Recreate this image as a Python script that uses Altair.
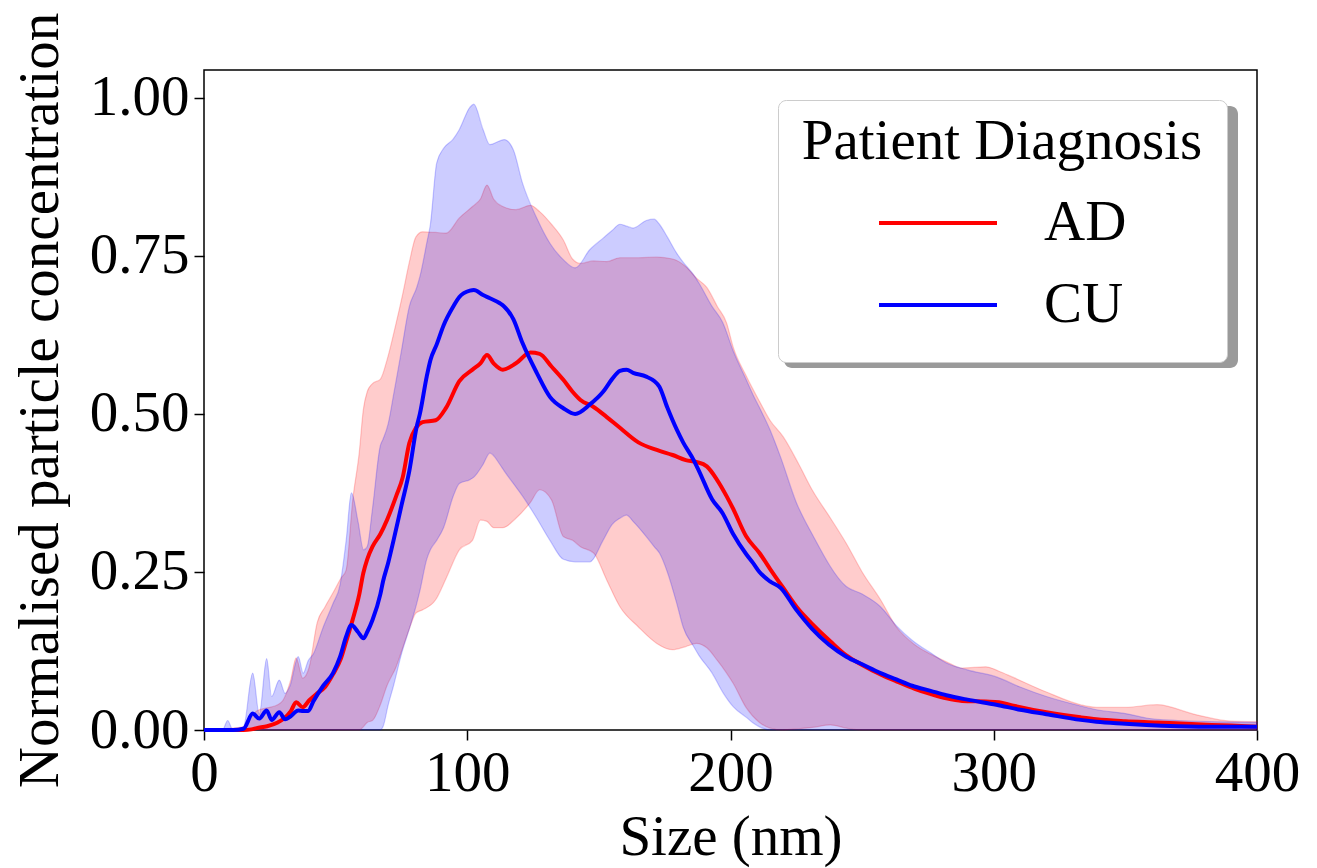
import altair as alt
import pandas as pd

# ---------------- data ----------------
groups = ["AD", "CU"]
colors = ["#ff0000", "#0000ff"]

ad_x = [0, 15, 18, 20, 24, 28, 30, 33, 35, 37.5, 40, 43, 46, 49, 52, 54, 56.5, 59, 60.5, 62, 64, 67,
        69.5, 73, 75.5, 78, 80.5, 83, 88, 92, 97, 102, 105, 107.5, 110, 113.5, 118.5, 124, 127.5, 132,
        136.5, 140, 143, 148, 153, 158, 165, 172, 178, 183, 187, 191, 195, 198.5, 201, 206, 211, 215,
        220, 226, 231, 238, 244, 250, 257, 263, 270, 276, 282, 288, 297, 302, 307, 320, 333, 339, 350,
        362, 377, 390, 400]
ad_mean = [0, 0, 0.001, 0.003, 0.006, 0.012, 0.017, 0.03, 0.044, 0.036, 0.047, 0.058, 0.068, 0.088,
           0.113, 0.14, 0.175, 0.215, 0.248, 0.27, 0.29, 0.31, 0.332, 0.37, 0.40, 0.454, 0.478, 0.487,
           0.49, 0.51, 0.552, 0.57, 0.58, 0.593, 0.58, 0.57, 0.58, 0.597, 0.595, 0.575, 0.554, 0.535,
           0.522, 0.511, 0.495, 0.478, 0.455, 0.443, 0.435, 0.427, 0.424, 0.417, 0.395, 0.37, 0.35,
           0.306, 0.28, 0.255, 0.225, 0.19, 0.168, 0.14, 0.118, 0.103, 0.088, 0.077, 0.065, 0.057, 0.05,
           0.046, 0.045, 0.044, 0.039, 0.028, 0.02, 0.017, 0.014, 0.012, 0.009, 0.007, 0.005]
ad_lower = [0, 0, 0, 0, 0, 0, 0, 0, 0, 0, 0, 0, 0, 0, 0, 0, 0, 0, 0.005, 0.012, 0.015, 0.04, 0.07, 0.10,
            0.13, 0.16, 0.185, 0.19, 0.206, 0.24, 0.285, 0.30, 0.332, 0.33, 0.32, 0.32, 0.335, 0.36,
            0.38, 0.364, 0.306, 0.30, 0.29, 0.28, 0.237, 0.195, 0.163, 0.137, 0.127, 0.132, 0.137, 0.13,
            0.11, 0.09, 0.074, 0.035, 0.012, 0.003, 0, 0.002, 0.004, 0.008, 0.003, 0, 0, 0, 0, 0, 0, 0,
            0, 0, 0, 0, 0, 0, 0, 0, 0, 0, 0]
ad_upper = [0, 0.005, 0.02, 0.03, 0.035, 0.04, 0.047, 0.08, 0.114, 0.082, 0.10, 0.17, 0.195, 0.217,
            0.24, 0.253, 0.364, 0.44, 0.506, 0.535, 0.548, 0.555, 0.585, 0.644, 0.69, 0.74, 0.78, 0.788,
            0.787, 0.786, 0.81, 0.828, 0.84, 0.862, 0.84, 0.828, 0.823, 0.83, 0.82, 0.80, 0.775, 0.745,
            0.738, 0.742, 0.741, 0.747, 0.747, 0.748, 0.745, 0.733, 0.715, 0.70, 0.67, 0.644, 0.606,
            0.56, 0.52, 0.49, 0.464, 0.42, 0.38, 0.335, 0.295, 0.25, 0.206, 0.163, 0.135, 0.12, 0.108,
            0.098, 0.10, 0.093, 0.084, 0.06, 0.04, 0.036, 0.036, 0.04, 0.024, 0.014, 0.013]

cu_x = [0, 7, 9, 11, 15, 18.5, 21, 23.8, 25.7, 28.6, 30.8, 32.7, 35.8, 37.7, 39.6, 41.5, 45.3, 49,
        51.7, 54, 56, 58.5, 60.6, 62, 64, 67, 68, 70, 72, 75, 78, 80.8, 82, 84.6, 86, 88.4, 91, 94.7,
        97, 101, 102.5, 106, 108.6, 112.4, 114, 117.5, 121, 126.4, 131.4, 136.5, 141, 146.6, 151.6,
        155, 158, 160.5, 163, 168, 171, 173, 176, 179.6, 182, 186, 188, 193, 197, 201, 206, 208.6,
        211, 215, 219, 225, 231, 244, 250, 257, 263, 269, 276, 282, 290, 301, 310, 320, 333, 339, 350,
        358, 370, 385, 400]
cu_mean = [0, 0, 0, 0, 0.002, 0.026, 0.018, 0.031, 0.016, 0.028, 0.017, 0.021, 0.031, 0.03, 0.03,
           0.045, 0.07, 0.09, 0.116, 0.148, 0.166, 0.155, 0.145, 0.155, 0.174, 0.215, 0.235, 0.265,
           0.30, 0.355, 0.41, 0.48, 0.50, 0.559, 0.585, 0.61, 0.64, 0.67, 0.685, 0.695, 0.696, 0.688,
           0.683, 0.675, 0.67, 0.65, 0.612, 0.565, 0.527, 0.509, 0.50, 0.515, 0.535, 0.555, 0.568,
           0.57, 0.565, 0.559, 0.552, 0.543, 0.51, 0.475, 0.455, 0.427, 0.41, 0.365, 0.343, 0.31,
           0.278, 0.264, 0.25, 0.235, 0.225, 0.19, 0.16, 0.116, 0.104, 0.09, 0.08, 0.07, 0.062, 0.055,
           0.048, 0.04, 0.032, 0.025, 0.016, 0.013, 0.01, 0.008, 0.006, 0.005, 0.005]
cu_lower = [0, 0, 0, 0, 0, 0, 0, 0, 0, 0, 0, 0, 0, 0, 0, 0, 0, 0, 0, 0, 0, 0, 0, 0, 0, 0, 0.005, 0.04,
            0.07, 0.12, 0.16, 0.20, 0.22, 0.27, 0.285, 0.30, 0.32, 0.37, 0.39, 0.396, 0.40, 0.42, 0.438,
            0.42, 0.41, 0.39, 0.37, 0.335, 0.30, 0.27, 0.266, 0.266, 0.30, 0.325, 0.335, 0.34, 0.33,
            0.306, 0.29, 0.28, 0.25, 0.20, 0.163, 0.132, 0.118, 0.09, 0.06, 0.037, 0.02, 0.011, 0.005,
            0, 0, 0, 0, 0, 0, 0, 0, 0, 0, 0, 0, 0, 0, 0, 0, 0, 0, 0, 0, 0, 0]
cu_upper = [0, 0, 0.015, 0, 0.005, 0.09, 0.025, 0.113, 0.053, 0.079, 0.058, 0.07, 0.116, 0.09, 0.11,
            0.12, 0.163, 0.20, 0.23, 0.30, 0.375, 0.33, 0.285, 0.29, 0.35, 0.45, 0.46, 0.485, 0.53,
            0.60, 0.67, 0.70, 0.717, 0.77, 0.80, 0.897, 0.92, 0.935, 0.95, 0.985, 0.99, 0.95, 0.926,
            0.932, 0.934, 0.918, 0.865, 0.81, 0.77, 0.744, 0.731, 0.76, 0.778, 0.79, 0.80, 0.797, 0.794,
            0.806, 0.808, 0.80, 0.78, 0.754, 0.74, 0.72, 0.707, 0.67, 0.645, 0.60, 0.554, 0.53, 0.51,
            0.475, 0.432, 0.36, 0.31, 0.227, 0.215, 0.195, 0.165, 0.142, 0.122, 0.106, 0.095, 0.084,
            0.068, 0.053, 0.038, 0.032, 0.026, 0.019, 0.015, 0.013, 0.012]

x_ticks = [0, 100, 200, 300, 400]
y_ticks = [0, 0.25, 0.5, 0.75, 1.0]

# ---------------- build table ----------------
frames = []
for g, xs, lo, me, up in [("AD", ad_x, ad_lower, ad_mean, ad_upper),
                          ("CU", cu_x, cu_lower, cu_mean, cu_upper)]:
    frames.append(pd.DataFrame({"size": xs, "lower": lo, "mean": me, "upper": up, "group": g}))
df = pd.concat(frames, ignore_index=True)

FONT = "Liberation Serif"
FS = 57

xscale = alt.Scale(domain=[0, 400], nice=False, zero=False)
yscale = alt.Scale(domain=[0, 1.044], nice=False)
cscale = alt.Scale(domain=groups, range=colors)

legend_spec = alt.Legend(title="Patient Diagnosis", orient="none",
                         legendX=574, legendY=30,
                         symbolType="stroke", symbolSize=13924,
                         symbolStrokeWidth=4, symbolOpacity=1,
                         labelOffset=45, symbolOffset=0,
                         clipHeight=66, rowPadding=16, padding=24,
                         titleAnchor="middle", titlePadding=9, titleLimit=800,
                         titleBaseline="line-top", titleLineHeight=37,
                         labelLimit=400,
                         fillColor="white", strokeColor="#cccccc",
                         cornerRadius=8)

base = alt.Chart(df)

# band: fill + translucent edge, line: mean
bands = base.mark_area(fillOpacity=0.2, strokeOpacity=0.2, strokeWidth=1.2,
                       interpolate="monotone").encode(
    x=alt.X("size:Q", scale=xscale,
            axis=alt.Axis(title="Size (nm)", values=x_ticks, format="d", labelFlush=False)),
    y=alt.Y("lower:Q", scale=yscale,
            axis=alt.Axis(title="Normalised particle concentration", values=y_ticks, format=".2f")),
    y2="upper:Q",
    color=alt.Color("group:N", scale=cscale, legend=legend_spec),
    stroke=alt.Stroke("group:N", scale=cscale, legend=legend_spec),
)

lines = base.mark_line(strokeWidth=4, interpolate="monotone").encode(
    x="size:Q",
    y="mean:Q",
    color=alt.Color("group:N", scale=cscale, legend=legend_spec),
)

shadow = alt.Chart(pd.DataFrame({"k": [0]})).mark_rect(color="#9a9a9a", cornerRadius=8).encode(
    x=alt.value(580), x2=alt.value(1034), y=alt.value(36), y2=alt.value(298)
)

chart = alt.layer(shadow, bands, lines).properties(
    width=1053, height=660,
    padding={"left": 196, "top": 62, "right": 52, "bottom": 138},
    autosize=alt.AutoSizeParams(type="none"),
).configure(
    font=FONT,
).configure_view(
    stroke="black", strokeWidth=1.5
).configure_axis(
    grid=False, domain=False,
    labelFont=FONT, labelFontSize=FS, labelColor="black",
    titleFont=FONT, titleFontSize=FS, titleFontWeight="normal", titleColor="black",
    tickColor="black", tickWidth=1.5, tickSize=10, labelPadding=5,
).configure_axisY(
    titlePadding=20,
).configure_axisX(
    titlePadding=8,
).configure_legend(
    titleFont=FONT, titleFontSize=FS, titleFontWeight="normal", titleColor="black",
    labelFont=FONT, labelFontSize=FS, labelColor="black",
)

chart.save("out.html", embed_options={"renderer": "svg", "actions": False})
